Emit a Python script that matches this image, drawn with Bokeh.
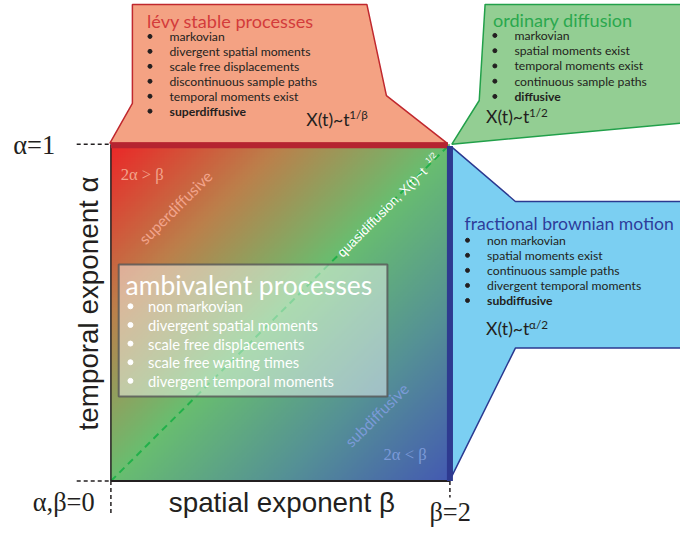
import numpy as np
from bokeh.plotting import figure
from bokeh.models import Range1d
from bokeh.core.properties import value
from bokeh.embed import file_html
from bokeh.resources import INLINE

# ---------------- content ----------------
levy_title = "lévy stable processes"
levy_items = ["markovian", "divergent spatial moments", "scale free displacements",
              "discontinuous sample paths", "temporal moments exist", "superdiffusive"]
levy_law = ["X(t)~t", "1/β"]

od_title = "ordinary diffusion"
od_items = ["markovian", "spatial moments exist", "temporal moments exist",
            "continuous sample paths", "diffusive"]
od_law = ["X(t)~t", "1/2"]

fbm_title = "fractional brownian motion"
fbm_items = ["non markovian", "spatial moments exist", "continuous sample paths",
             "divergent temporal moments", "subdiffusive"]
fbm_law = ["X(t)~t", "α/2"]

amb_title = "ambivalent processes"
amb_items = ["non markovian", "divergent spatial moments", "scale free displacements",
             "scale free waiting times", "divergent temporal moments"]

region_labels = ["2α > β", "2α < β"]
diag_labels = ["superdiffusive", "subdiffusive"]
quasi_label = ["quasidiffusion, X(t)~t", "1/2"]
axis_titles = ["temporal exponent α", "spatial exponent β"]
tick_labels = ["α=1", "α,β=0", "β=2"]

# gradient anchor colours (red -> green -> blue along the anti-diagonal)
grad_stops = [-1.0, -0.5, 0.0, 0.5, 1.0]
grad_r = [235, 188, 105, 85, 68]
grad_g = [40, 128, 190, 145, 90]
grad_b = [40, 75, 112, 150, 178]

# ---------------- geometry (reference px) ----------------
X0, X1, YT, YB = 113, 460, 148, 495   # square
levy_x = [135, 375, 395, 457, 112, 135]
levy_y = [4, 4, 98, 147, 147, 106]
od_x = [496, 700, 700, 462, 490]
od_y = [4, 4, 126, 148, 103]
fbm_x = [462, 527, 700, 700, 527, 462]
fbm_y = [151, 207, 207, 358, 358, 490]

RW, RH = 696, 548
W, H = 680, 532
K = W / RW
def fs(px):
    return f"{px * K:.1f}px"

p = figure(width=W, height=H, x_range=Range1d(0, RW), y_range=Range1d(RH, 0),
           output_backend="svg", toolbar_location=None, min_border=0,
           x_axis_location=None, y_axis_location=None)
p.grid.visible = False
p.outline_line_color = None
p.background_fill_color = "white"

SANS = value("Lato")
SERIF = value("Liberation Serif")
ARIAL = value("Liberation Sans")

# gradient image
n = 200
u = np.linspace(0, 1, n)
xx, yy = np.meshgrid(u, u)
yup = 1 - yy
t = xx - yup
img = np.zeros((n, n), dtype=np.uint32)
view = img.view(dtype=np.uint8).reshape((n, n, 4))
view[:, :, 0] = np.interp(t, grad_stops, grad_r)
view[:, :, 1] = np.interp(t, grad_stops, grad_g)
view[:, :, 2] = np.interp(t, grad_stops, grad_b)
view[:, :, 3] = 255
p.image_rgba(image=[img], x=X0, y=YT, dw=X1 - X0, dh=YB - YT)

# callout polygons
p.patch(levy_x, levy_y, fill_color="#F4A283", line_color="#C0282E", line_width=1.5)
p.patch(od_x, od_y, fill_color="#93CE93", line_color="#22A04A", line_width=1.5)
p.patch(fbm_x, fbm_y, fill_color="#7BCFF2", line_color="#2B3990", line_width=1.5)

# diagonal dashed (quasidiffusion)
p.line([X0, X1], [YB, YT], line_color="#22B04A", line_width=2, line_dash="7 5")

# square borders
p.line([X0, X0], [YT, YB], line_color="#231f20", line_width=1.5)
p.line([X0, X1], [YB, YB], line_color="#231f20", line_width=2)
p.line([X0, X1 - 2], [YT + 1, YT + 1], line_color="#B52430", line_width=6)
p.line([X1, X1], [YT + 2, YB], line_color="#2E3A90", line_width=6)

# dashed guide lines
dk = dict(line_color="#231f20", line_width=1.5, line_dash="4 3")
p.line([78, X0], [YT, YT], **dk)
p.line([78, X0], [YB, YB], **dk)
p.line([X0, X0], [YB, 530], **dk)
p.line([X1, X1], [YB, 512], **dk)

# ambivalent box
p.quad(left=121, right=396, top=272, bottom=408, fill_color="white", fill_alpha=0.45,
       line_color="#555555", line_alpha=0.8, line_width=2)

def block(title, tcol, tx, ty, items, bx, ix, iy0, dy, col, f, tf, bsize, bold_last=True):
    p.text(x=[tx], y=[ty], text=[title], text_color=tcol, text_font=SANS,
           text_font_size=fs(tf), text_baseline="middle")
    ys = [iy0 + i * dy for i in range(len(items))]
    p.scatter(x=[bx] * len(items), y=ys, size=bsize, color=col)
    for i, (yv, s) in enumerate(zip(ys, items)):
        st = "bold" if (bold_last and i == len(items) - 1) else "normal"
        p.text(x=[ix], y=[yv], text=[s], text_color=col, text_font=SANS,
               text_font_size=fs(f), text_baseline="middle", text_font_style=st)

block(levy_title, "#D33B3B", 150, 21, levy_items, 153, 173, 37, 15.4, "#231f20", 12.5, 18.5, 4)
block(od_title, "#2AA84E", 504, 20, od_items, 506, 526, 36, 15.7, "#231f20", 12.5, 18.5, 4)
block(fbm_title, "#2E3D9A", 475, 230, fbm_items, 478, 498, 247, 15.5, "#231f20", 12.5, 18, 4)
block(amb_title, "white", 128, 293, amb_items, 133, 151, 315, 19.2, "white", 15, 27, 5, bold_last=False)

def law(parts, x, y, xs, ys, col="#231f20"):
    p.text(x=[x], y=[y], text=[parts[0]], text_color=col, text_font=SANS,
           text_font_size=fs(18), text_baseline="middle")
    p.text(x=[xs], y=[ys], text=[parts[1]], text_color=col, text_font=SANS,
           text_font_size=fs(12), text_baseline="middle")

law(levy_law, 313, 123, 357, 117)
law(od_law, 497, 120, 541, 115)
law(fbm_law, 497, 338, 541, 333)

# region labels
p.text(x=[123], y=[179], text=[region_labels[0]], text_color="#F2A48C", text_font=SERIF,
       text_font_size=fs(17), text_baseline="middle")
p.text(x=[392], y=[468], text=[region_labels[1]], text_color="#7B9AD8", text_font=SERIF,
       text_font_size=fs(17), text_baseline="middle")
ang = np.pi / 4
p.text(x=[179], y=[213], text=[diag_labels[0]], text_color="#F2A48C", text_font=SANS,
       text_font_size=fs(16), text_baseline="middle", text_align="center", angle=ang)
p.text(x=[385], y=[427], text=[diag_labels[1]], text_color="#7B9AD8", text_font=SANS,
       text_font_size=fs(16), text_baseline="middle", text_align="center", angle=ang)
p.text(x=[347], y=[262], text=[quasi_label[0]], text_color="white", text_font=ARIAL,
       text_font_size=fs(13.5), text_baseline="middle", text_align="left", angle=ang)
p.text(x=[436], y=[166], text=[quasi_label[1]], text_color="white", text_font=ARIAL,
       text_font_size=fs(8.5), text_baseline="middle", text_align="left", angle=ang)

# axis titles
p.text(x=[90], y=[312], text=[axis_titles[0]], text_color="#231f20", text_font=ARIAL,
       text_font_size=fs(28.5), text_baseline="middle", text_align="center", angle=np.pi / 2)
p.text(x=[288], y=[517], text=[axis_titles[1]], text_color="#231f20", text_font=ARIAL,
       text_font_size=fs(28.5), text_baseline="middle", text_align="center")

# tick labels
p.text(x=[13], y=[149], text=[tick_labels[0]], text_color="#231f20", text_font=SERIF,
       text_font_size=fs(27), text_baseline="middle")
p.text(x=[33], y=[517], text=[tick_labels[1]], text_color="#231f20", text_font=SERIF,
       text_font_size=fs(27), text_baseline="middle")
p.text(x=[439], y=[527], text=[tick_labels[2]], text_color="#231f20", text_font=SERIF,
       text_font_size=fs(27), text_baseline="middle")

open("out.html", "w").write(file_html(p, INLINE))
